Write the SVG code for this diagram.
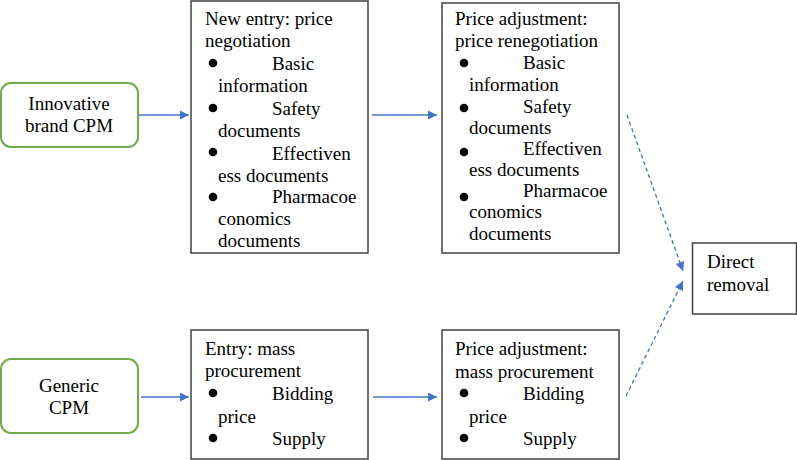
<svg xmlns="http://www.w3.org/2000/svg" width="797" height="460" viewBox="0 0 797 460">
<defs>
<marker id="ah" viewBox="0 0 10 10" refX="10" refY="5" markerWidth="10" markerHeight="9" markerUnits="userSpaceOnUse" orient="auto">
<path d="M0,0 L10,5 L0,10 z" fill="#4472C4"/>
</marker>
<style>
text{font-family:"Liberation Serif","Times New Roman",serif;font-size:19px;fill:#000}
.box{fill:#fff;stroke:#404040;stroke-width:1.5}
.green{fill:#fff;stroke:#70AD47;stroke-width:2}
.conn{stroke:#4472C4;stroke-width:1.3;fill:none}
.dash{stroke-dasharray:4,3}
.mid{text-anchor:middle}
</style>
</defs>
<g id="innovative">
<rect class="green" x="1" y="83" width="137" height="64" rx="10"/>
<text class="mid" x="69" y="110">Innovative</text>
<text class="mid" x="69" y="132">brand CPM</text>
</g>
<g id="generic">
<rect class="green" x="1" y="359" width="137" height="74" rx="10"/>
<text class="mid" x="69" y="392">Generic</text>
<text class="mid" x="69" y="414">CPM</text>
</g>
<g id="new-entry">
<rect class="box" x="191" y="1" width="177" height="252"/>
<text x="205" y="25">New entry: price</text>
<text x="205" y="47">negotiation</text>
<circle cx="213" cy="63" r="4.3"/>
<text x="272" y="70">Basic</text>
<text x="218" y="92">information</text>
<circle cx="213" cy="108" r="4.3"/>
<text x="272" y="115">Safety</text>
<text x="218" y="137">documents</text>
<circle cx="213" cy="152" r="4.3"/>
<text x="272" y="160">Effectiven</text>
<text x="218" y="182">ess documents</text>
<circle cx="213" cy="197" r="4.3"/>
<text x="272" y="203">Pharmacoe</text>
<text x="218" y="225">conomics</text>
<text x="218" y="247">documents</text>
</g>
<g id="price-renegotiation">
<rect class="box" x="442" y="3" width="177" height="250"/>
<text x="455" y="25">Price adjustment:</text>
<text x="455" y="47">price renegotiation</text>
<circle cx="464" cy="63" r="4.3"/>
<text x="523" y="69">Basic</text>
<text x="469" y="91">information</text>
<circle cx="464" cy="108" r="4.3"/>
<text x="523" y="113">Safety</text>
<text x="469" y="134">documents</text>
<circle cx="464" cy="152" r="4.3"/>
<text x="523" y="155">Effectiven</text>
<text x="469" y="176">ess documents</text>
<circle cx="464" cy="197" r="4.3"/>
<text x="523" y="197">Pharmacoe</text>
<text x="469" y="218">conomics</text>
<text x="469" y="240">documents</text>
</g>
<g id="entry-mass">
<rect class="box" x="191" y="330" width="177" height="129"/>
<text x="205" y="355">Entry: mass</text>
<text x="205" y="377">procurement</text>
<circle cx="213" cy="393" r="4.3"/>
<text x="272" y="400">Bidding</text>
<text x="218" y="423">price</text>
<circle cx="213" cy="438" r="4.3"/>
<text x="272" y="445">Supply</text>
</g>
<g id="adjust-mass">
<rect class="box" x="442" y="330" width="177" height="129"/>
<text x="455" y="355">Price adjustment:</text>
<text x="455" y="378">mass procurement</text>
<circle cx="464" cy="393" r="4.3"/>
<text x="523" y="400">Bidding</text>
<text x="469" y="423">price</text>
<circle cx="464" cy="438" r="4.3"/>
<text x="523" y="445">Supply</text>
</g>
<g id="direct-removal">
<rect class="box" x="692.5" y="243" width="104" height="71"/>
<text x="707" y="268">Direct</text>
<text x="707" y="291">removal</text>
</g>
<g id="connectors">
<line class="conn" x1="139" y1="115" x2="189" y2="115" marker-end="url(#ah)"/>
<line class="conn" x1="372" y1="115" x2="437" y2="115" marker-end="url(#ah)"/>
<line class="conn" x1="141" y1="397" x2="189" y2="397" marker-end="url(#ah)"/>
<line class="conn" x1="373" y1="397" x2="437" y2="397" marker-end="url(#ah)"/>
<line class="conn dash" x1="627" y1="115" x2="683" y2="271" marker-end="url(#ah)"/>
<line class="conn dash" x1="626" y1="396" x2="683" y2="281" marker-end="url(#ah)"/>
</g>
</svg>
